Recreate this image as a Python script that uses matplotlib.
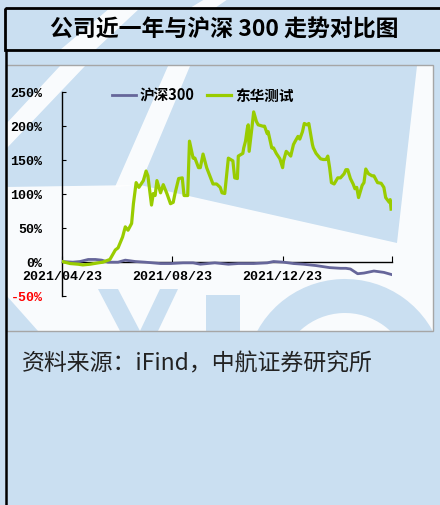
import matplotlib
matplotlib.use("Agg")
import matplotlib.pyplot as plt
from matplotlib.patches import Rectangle, Polygon, Wedge
import pandas as pd

plt.rcParams['font.family'] = ['Noto Sans CJK SC', 'DejaVu Sans']

# ---------------- data ----------------
title = "公司近一年与沪深 300 走势对比图"
source = "资料来源：iFind，中航证券研究所"
series_names = ["沪深300", "东华测试"]

dhhs_dates = ["2021-04-23", "2021-05-02", "2021-05-11", "2021-05-16", "2021-05-24", "2021-06-02",
              "2021-06-07", "2021-06-15", "2021-06-21", "2021-06-24", "2021-06-29", "2021-07-02",
              "2021-07-05", "2021-07-09", "2021-07-11", "2021-07-14", "2021-07-17", "2021-07-22",
              "2021-07-25", "2021-07-27", "2021-07-31", "2021-08-02", "2021-08-04", "2021-08-06",
              "2021-08-10", "2021-08-13", "2021-08-17", "2021-08-21", "2021-08-24", "2021-08-26",
              "2021-08-30", "2021-09-03", "2021-09-05", "2021-09-09", "2021-09-11", "2021-09-15",
              "2021-09-17", "2021-09-21", "2021-09-23", "2021-09-26", "2021-09-30", "2021-10-07",
              "2021-10-11", "2021-10-15", "2021-10-17", "2021-10-20", "2021-10-24", "2021-10-29",
              "2021-10-31", "2021-11-03", "2021-11-04", "2021-11-09", "2021-11-10", "2021-11-12",
              "2021-11-14", "2021-11-15", "2021-11-16", "2021-11-19", "2021-11-21", "2021-11-24",
              "2021-11-26", "2021-12-01", "2021-12-03", "2021-12-06", "2021-12-07", "2021-12-11",
              "2021-12-13", "2021-12-16", "2021-12-20", "2021-12-23", "2021-12-24", "2021-12-27",
              "2021-12-30", "2022-01-01", "2022-01-04", "2022-01-06", "2022-01-09", "2022-01-11",
              "2022-01-14", "2022-01-16", "2022-01-19", "2022-01-21", "2022-01-25", "2022-01-26",
              "2022-01-29", "2022-02-03", "2022-02-06", "2022-02-09", "2022-02-11", "2022-02-13",
              "2022-02-15", "2022-02-18", "2022-02-22", "2022-02-25", "2022-03-01", "2022-03-03",
              "2022-03-05", "2022-03-08", "2022-03-11", "2022-03-13", "2022-03-15", "2022-03-17",
              "2022-03-21", "2022-03-23", "2022-03-25", "2022-03-28", "2022-04-01", "2022-04-03",
              "2022-04-07", "2022-04-11", "2022-04-14", "2022-04-16", "2022-04-20", "2022-04-21",
              "2022-04-22"]
dhhs_values = [0, -3, -4, -5, -4, -2,
               -1, 3, 17, 20, 36, 51,
               46, 56, 85, 116, 109, 119,
               133, 126, 83, 100, 97, 119,
               101, 113, 100, 85, 87, 100,
               122, 123, 97, 97, 177, 152,
               152, 138, 138, 158, 138, 114,
               114, 109, 101, 100, 152, 148,
               123, 122, 155, 159, 167, 177,
               196, 201, 162, 196, 220, 206,
               201, 199, 199, 188, 191, 167,
               167, 159, 151, 138, 148, 162,
               158, 155, 172, 177, 184, 180,
               191, 203, 201, 203, 172, 167,
               159, 151, 150, 150, 155, 138,
               116, 114, 123, 123, 129, 135,
               135, 122, 114, 107, 109, 94,
               112, 116, 136, 129, 126, 126,
               116, 115, 109, 94, 87, 91,
               77]

hs300_dates = ["2021-04-23", "2021-05-05", "2021-05-13", "2021-05-22", "2021-05-30", "2021-06-06",
               "2021-06-13", "2021-06-24", "2021-07-02", "2021-07-13", "2021-07-24", "2021-08-10",
               "2021-08-21", "2021-09-04", "2021-09-15", "2021-09-23", "2021-10-09", "2021-10-24",
               "2021-11-04", "2021-11-21", "2021-12-06", "2021-12-13", "2021-12-24", "2022-01-04",
               "2022-01-15", "2022-01-29", "2022-02-13", "2022-02-25", "2022-03-03", "2022-03-08",
               "2022-03-16", "2022-03-23", "2022-04-03", "2022-04-14", "2022-04-22"]
hs300_values = [0, -1, 0, 3, 3, 2,
                -1, -1, 2, 0, -1, -3,
                -3, -2, -2, -4, -2, -4,
                -3, -3, -2, 0, -1, -3,
                -4, -6, -9, -10, -10, -11,
                -18, -17, -14, -16, -19]

xtick_dates = ["2021-04-23", "2021-08-23", "2021-12-23", "2022-04-23"]
xtick_labels = ["2021/04/23", "2021/08/23", "2021/12/23", ""]
ytick_values = [-50, 0, 50, 100, 150, 200, 250]
ytick_labels = ["-50%", "0%", "50%", "100%", "150%", "200%", "250%"]

# ---------------- figure ----------------
W, H = 440, 506
fig = plt.figure(figsize=(W / 100, H / 100), dpi=100)
BLUE = '#CADFF1'
fig.patch.set_facecolor(BLUE)

bg = fig.add_axes([0, 0, 1, 1], zorder=0)
bg.set_xlim(0, W)
bg.set_ylim(H, 0)
bg.axis('off')

# watermark-like white areas (approximate)
white_polys = [
    [(6, 188), (140, 186), (397, 244), (397, 252), (433, 252), (433, 332), (6, 332)],
    [(417, 67), (433, 67), (433, 252), (397, 252), (397, 244)],
    [(6, 150), (6, 125), (60, 67), (85, 67)],
    [(115, 188), (140, 186), (190, 67), (168, 67)],
    [(60, 51), (95, 51), (140, 9), (110, 9)],
    [(190, 9), (215, 9), (228, 0), (205, 0)],
]
for p in white_polys:
    bg.add_patch(Polygon(p, closed=True, facecolor='white', edgecolor='none', alpha=0.9))

# watermark letter fragments (approximate)
blue_polys = [
    [(6, 296), (6, 332), (38, 332)],
    [(98, 290), (118, 290), (140, 332), (120, 332)],
    [(160, 290), (178, 290), (158, 332), (140, 332)],
    [(206, 296), (240, 296), (240, 332), (206, 332)],
]
for p in blue_polys:
    bg.add_patch(Polygon(p, closed=True, facecolor=BLUE, edgecolor='none'))
bg.add_patch(Wedge((345, 380), 100, 190, 345, width=34, facecolor=BLUE, edgecolor='none'))
bg.add_patch(Rectangle((6, 332), 430, 174, facecolor=BLUE, edgecolor='none'))

# frames
bg.add_patch(Rectangle((5, 9), 450, 42, fill=False, edgecolor='black', lw=2.0))
bg.plot([6, 6], [51, H], color='black', lw=1.8)
bg.add_patch(Rectangle((6, 66), 427, 266, fill=False, edgecolor='#A6A6A6', lw=1.0))

bg.text(224, 30, title, ha='center', va='center', fontsize=16.5, fontweight='bold', color='black')
bg.text(22, 364, source, ha='left', va='center', fontsize=16.5, color='#222222')

# chart axes
ax = fig.add_axes([62 / W, 1 - 296.5 / H, 330 / W, 204 / H], zorder=2)
ax.patch.set_alpha(0)

d1 = pd.to_datetime(hs300_dates)
d2 = pd.to_datetime(dhhs_dates)
ax.plot(d1, hs300_values, color='#66669A', lw=2.0, label=series_names[0], zorder=3)
ax.plot(d2, dhhs_values, color='#99CC00', lw=2.3, label=series_names[1], zorder=4)

ax.set_ylim(-50, 250)
ax.set_xlim(pd.Timestamp(xtick_dates[0]), pd.Timestamp(xtick_dates[-1]))

for s in ['top', 'right']:
    ax.spines[s].set_visible(False)
ax.spines['bottom'].set_position(('data', 0))
ax.spines['bottom'].set_linewidth(1.0)
ax.spines['left'].set_linewidth(1.0)

ax.set_yticks(ytick_values)
ax.set_yticklabels(ytick_labels)
ax.set_xticks(pd.to_datetime(xtick_dates))
ax.set_xticklabels(xtick_labels)
ax.tick_params(axis='y', direction='in', length=3, pad=14)
ax.tick_params(axis='x', direction='in', length=4, pad=6)
for lab in ax.get_yticklabels() + ax.get_xticklabels():
    lab.set_fontfamily(['Liberation Mono', 'DejaVu Sans Mono'])
    lab.set_fontweight('bold')
    lab.set_fontsize(9.5)
for lab in ax.get_yticklabels():
    if lab.get_text().startswith('-'):
        lab.set_color('red')

leg = ax.legend(loc='center left', bbox_to_anchor=(112 / W, 1 - 96 / H), bbox_transform=fig.transFigure,
                ncol=2, frameon=False, handlelength=1.65, handletextpad=0.25, columnspacing=0.85,
                borderpad=0, borderaxespad=0, prop={'weight': 'bold', 'size': 10.5})

fig.savefig('out.png', dpi=100, facecolor=fig.get_facecolor())
